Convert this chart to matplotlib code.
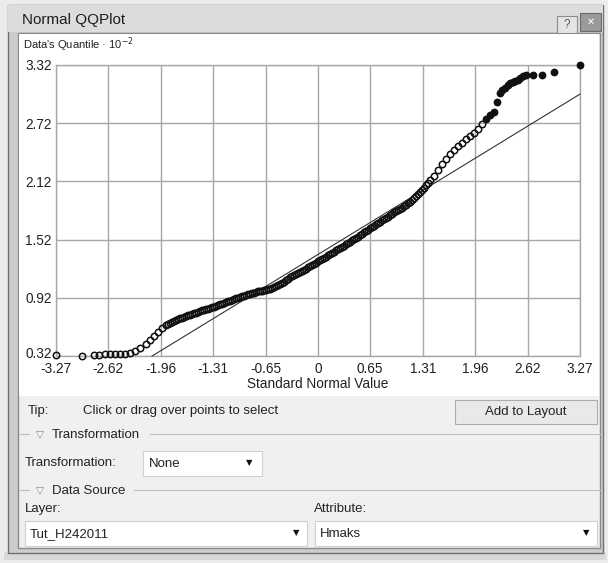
import matplotlib
matplotlib.use("Agg")
import matplotlib.pyplot as plt
from matplotlib.patches import Rectangle
import matplotlib.transforms as mtransforms
import numpy as np

plt.rcParams['font.family'] = ['Liberation Sans', 'DejaVu Sans']

# ---------------- data ----------------
x_ticks = [-3.27, -2.62, -1.96, -1.31, -0.65, 0, 0.65, 1.31, 1.96, 2.62, 3.27]
x_tick_labels = ["-3.27", "-2.62", "-1.96", "-1.31", "-0.65", "0", "0.65", "1.31", "1.96", "2.62", "3.27"]
y_ticks = [0.32, 0.92, 1.52, 2.12, 2.72, 3.32]
y_tick_labels = ["0.32", "0.92", "1.52", "2.12", "2.72", "3.32"]

# theoretical (standard normal) quantiles
qq_x = [-3.27, -2.95, -2.80, -2.73, -2.66, -2.60, -2.53, -2.47, -2.41, -2.35, -2.28, -2.22,
        -2.15, -2.10, -2.05, -2.00, -1.95,
        -1.900, -1.875, -1.850, -1.825, -1.800, -1.775, -1.750, -1.725, -1.700, -1.675,
        -1.650, -1.625, -1.600, -1.575, -1.550, -1.525, -1.500, -1.475, -1.450, -1.425,
        -1.400, -1.375, -1.350, -1.325, -1.300, -1.275, -1.250, -1.225, -1.200, -1.175,
        -1.150, -1.125, -1.100, -1.075, -1.050, -1.025, -1.000, -0.975, -0.950, -0.925,
        -0.900, -0.875, -0.850, -0.825, -0.800, -0.775, -0.750, -0.725, -0.700, -0.675,
        -0.650, -0.625, -0.600, -0.575, -0.550, -0.525, -0.500, -0.475, -0.450, -0.425,
        -0.400, -0.375, -0.350, -0.325, -0.300, -0.275, -0.250, -0.225, -0.200, -0.175,
        -0.150, -0.125, -0.100, -0.075, -0.050, -0.025, 0.000, 0.025, 0.050, 0.075,
        0.100, 0.125, 0.150, 0.175, 0.200, 0.225, 0.250, 0.275, 0.300, 0.325,
        0.350, 0.375, 0.400, 0.425, 0.450, 0.475, 0.500, 0.525, 0.550, 0.575,
        0.600, 0.625, 0.650, 0.675, 0.700, 0.725, 0.750, 0.775, 0.800, 0.825,
        0.850, 0.875, 0.900, 0.925, 0.950, 0.975, 1.000, 1.025, 1.050, 1.075,
        1.100, 1.125, 1.150, 1.175, 1.200, 1.225, 1.250, 1.275, 1.300, 1.325,
        1.350, 1.375, 1.400,
        1.45, 1.50, 1.55, 1.60, 1.65, 1.70, 1.75, 1.80, 1.85, 1.90, 1.95, 2.00,
        2.05, 2.10, 2.15, 2.20, 2.24, 2.27, 2.30, 2.33, 2.37, 2.40, 2.43, 2.46,
        2.49, 2.52, 2.56, 2.60, 2.68, 2.79, 2.95, 3.27]
# data quantiles (x 10^-2)
qq_y = [0.33, 0.32, 0.33, 0.335, 0.34, 0.34, 0.34, 0.34, 0.345, 0.355, 0.37, 0.40,
        0.44, 0.48, 0.53, 0.57, 0.61,
        0.640, 0.653, 0.665, 0.675, 0.685, 0.693, 0.700, 0.708, 0.715, 0.723,
        0.730, 0.738, 0.745, 0.753, 0.760, 0.768, 0.775, 0.783, 0.790, 0.795,
        0.800, 0.808, 0.815, 0.823, 0.830, 0.838, 0.845, 0.853, 0.860, 0.868,
        0.875, 0.883, 0.890, 0.898, 0.905, 0.913, 0.920, 0.928, 0.935, 0.943,
        0.950, 0.955, 0.960, 0.965, 0.970, 0.978, 0.985, 0.990, 0.995, 1.000,
        1.005, 1.010, 1.015, 1.022, 1.030, 1.040, 1.050, 1.060, 1.070, 1.085,
        1.100, 1.115, 1.130, 1.143, 1.155, 1.165, 1.175, 1.188, 1.200, 1.210,
        1.220, 1.233, 1.245, 1.258, 1.270, 1.283, 1.295, 1.308, 1.320, 1.333,
        1.345, 1.358, 1.370, 1.383, 1.395, 1.408, 1.420, 1.433, 1.445, 1.458,
        1.470, 1.485, 1.500, 1.513, 1.525, 1.538, 1.550, 1.565, 1.580, 1.595,
        1.610, 1.623, 1.635, 1.650, 1.665, 1.678, 1.690, 1.705, 1.720, 1.733,
        1.745, 1.758, 1.770, 1.785, 1.800, 1.813, 1.825, 1.838, 1.850, 1.863,
        1.875, 1.893, 1.910, 1.928, 1.945, 1.965, 1.985, 2.008, 2.030, 2.055,
        2.080, 2.105, 2.130,
        2.18, 2.24, 2.30, 2.35, 2.40, 2.445, 2.48, 2.52, 2.555, 2.59, 2.62, 2.66,
        2.71, 2.76, 2.80, 2.84, 2.94, 3.03, 3.06, 3.08, 3.11, 3.13, 3.14, 3.15,
        3.17, 3.19, 3.21, 3.22, 3.22, 3.22, 3.25, 3.32]

# reference line end points
ref_x = [-2.07, 3.27]
ref_y = [0.32, 3.02]

# ---------------- figure ----------------
W, H = 608, 563
fig = plt.figure(figsize=(W / 100, H / 100), dpi=100, facecolor='#ececec')
bg = fig.add_axes([0, 0, 1, 1])
bg.set_xlim(0, W)
bg.set_ylim(H, 0)
bg.axis('off')

def rect(x0, y0, x1, y1, fc, ec='none', lw=1.0, z=1):
    bg.add_patch(Rectangle((x0, y0), x1 - x0, y1 - y0, facecolor=fc, edgecolor=ec, linewidth=lw, zorder=z))

# window frame
rect(4, 552, 606, 560, '#d8d8d8', z=0)
rect(8, 5, 603, 553, '#cdcdcd', '#6e6e6e', 1.0)
rect(8, 5, 603, 32, '#dcdcdc', z=1.1)
rect(18, 33, 600, 548, '#f0f0f0', '#8a8a8a', 1.0, z=2)
rect(19, 34, 599, 396, 'white', z=2.1)

bg.text(22, 20, "Normal QQPlot", fontsize=11, va='center', ha='left', color='#1e1e1e', zorder=5)
# help and close buttons
rect(557, 16, 577, 33, '#e4e4e4', '#8c8c8c', 0.8, z=3)
bg.text(567, 25, "?", fontsize=8.5, ha='center', va='center', color='#555555', zorder=5)
rect(580, 13, 601, 31, '#9a9a9a', '#6a6a6a', 0.8, z=3)
bg.text(590.5, 22, "\u2715", fontsize=7, ha='center', va='center', color='white',
        family='DejaVu Sans', zorder=5)

# axis heading
bg.text(23, 45, "Data's Quantile \u00b7 10$^{-2}$", fontsize=8, ha='left', va='center',
        color='#222222', zorder=5)
bg.text(318, 384, "Standard Normal Value", fontsize=9.8, ha='center', va='center',
        color='#222222', zorder=5)

# lower panel
bg.text(28, 411, "Tip:", fontsize=9.5, ha='left', va='center', color='#222222', zorder=5)
bg.text(83, 411, "Click or drag over points to select", fontsize=9.5, ha='left', va='center',
        color='#222222', zorder=5)
rect(455, 400, 597, 424, '#e9e9e9', '#acacac', 0.8, z=3)
bg.text(526, 412, "Add to Layout", fontsize=9.5, ha='center', va='center', color='#222222', zorder=5)

bg.plot([20, 29], [434, 434], color='#c0c0c0', lw=0.8, zorder=4)
bg.text(36, 435, "\u25bd", fontsize=7.5, ha='left', va='center', color='#8a8a8a',
        family='DejaVu Sans', zorder=5)
bg.text(52, 435, "Transformation", fontsize=9.5, ha='left', va='center', color='#222222', zorder=5)
bg.plot([150, 600], [434, 434], color='#c0c0c0', lw=0.8, zorder=4)

bg.text(25, 463, "Transformation:", fontsize=9.5, ha='left', va='center', color='#222222', zorder=5)
rect(143, 451, 262, 476, 'white', '#d0d0d0', 0.8, z=3)
bg.text(149, 464, "None", fontsize=9.5, ha='left', va='center', color='#222222', zorder=5)
bg.text(249, 463, "\u25bc", fontsize=6, ha='center', va='center', color='#111111',
        family='DejaVu Sans', zorder=5)

bg.plot([20, 29], [490, 490], color='#c0c0c0', lw=0.8, zorder=4)
bg.text(36, 491, "\u25bd", fontsize=7.5, ha='left', va='center', color='#8a8a8a',
        family='DejaVu Sans', zorder=5)
bg.text(52, 491, "Data Source", fontsize=9.5, ha='left', va='center', color='#222222', zorder=5)
bg.plot([134, 600], [490, 490], color='#c0c0c0', lw=0.8, zorder=4)

bg.text(25, 509, "Layer:", fontsize=9.5, ha='left', va='center', color='#222222', zorder=5)
bg.text(314, 509, "Attribute:", fontsize=9.5, ha='left', va='center', color='#222222', zorder=5)
rect(25, 521, 307, 546, 'white', '#d0d0d0', 0.8, z=3)
bg.text(30, 534, "Tut_H242011", fontsize=9.5, ha='left', va='center', color='#222222', zorder=5)
bg.text(296, 533, "\u25bc", fontsize=6, ha='center', va='center', color='#111111',
        family='DejaVu Sans', zorder=5)
rect(315, 521, 597, 546, 'white', '#d0d0d0', 0.8, z=3)
bg.text(320, 534, "Hmaks", fontsize=9.5, ha='left', va='center', color='#222222', zorder=5)
bg.text(586, 533, "\u25bc", fontsize=6, ha='center', va='center', color='#111111',
        family='DejaVu Sans', zorder=5)

# ---------------- QQ plot ----------------
px0, px1, py0, py1 = 56, 580, 65, 356
ax = fig.add_axes([px0 / W, 1 - py1 / H, (px1 - px0) / W, (py1 - py0) / H])
ax.set_facecolor('none')
ax.set_xlim(x_ticks[0], x_ticks[-1])
ax.set_ylim(y_ticks[0], y_ticks[-1])
ax.set_xticks(x_ticks)
ax.set_xticklabels(x_tick_labels)
ax.set_yticks(y_ticks)
ax.set_yticklabels(y_tick_labels)
ax.tick_params(axis='x', length=0, labelsize=9.8, colors='#222222', pad=4)
ax.tick_params(axis='y', length=0, labelsize=9.8, colors='#222222', pad=3)
# lift the bottom y label slightly so it clears the x labels
lbl0 = ax.get_yticklabels()[0]
lbl0.set_transform(lbl0.get_transform() + mtransforms.ScaledTranslation(0, 2.5 / 72, fig.dpi_scale_trans))
ax.grid(True, color='#a8a8a8', lw=1.0)
for s in ax.spines.values():
    s.set_color('#a8a8a8')
    s.set_linewidth(1.0)

ax.plot(ref_x, ref_y, color='#333333', lw=0.8, zorder=3, clip_on=False)

xs = np.array(qq_x)
ys = np.array(qq_y)
filled = xs >= 2.1
ax.plot(xs[~filled], ys[~filled], 'o', ms=4.6, mfc='none', mec='#111111', mew=1.1,
        zorder=4, clip_on=False)
ax.plot(xs[filled], ys[filled], 'o', ms=4.6, mfc='#111111', mec='#111111', mew=1.0,
        zorder=4, clip_on=False)

fig.savefig("out.png", dpi=100, facecolor=fig.get_facecolor())
